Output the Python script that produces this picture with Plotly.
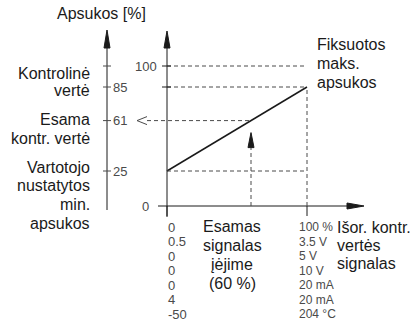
import plotly.graph_objects as go

# characteristic: external signal (% of range) -> speed (%)
signal_pct = [0, 100]
speed_pct = [25, 85]
ceiling_pct = 100
current_signal = 60
current_speed = 61

scale_ticks = [100, 85, 61, 25]
scale_labels = ["", "85", "61", "25"]
signal_min = ["0", "0.5", "0", "0", "0", "4", "-50"]
signal_max = ["100 %", "3.5 V", "5 V", "10 V", "20 mA", "20 mA", "204 °C"]

W, H = 420, 325
X0, Y0, K = 167, 206, 1.4  # pixel of the origin, pixels per %
FONT = "Liberation Sans, Arial, sans-serif"
INK = "#1a1a1a"
GREY = "#4a4a4a"


def xv(p):
    return (p - X0) / K


def yv(p):
    return (Y0 - p) / K


def seg(x0, y0, x1, y1, dash="solid", color=INK, width=1):
    return dict(type="line", xref="x", yref="y", x0=x0, y0=y0, x1=x1, y1=y1,
                line=dict(color=color, width=width, dash=dash))


def head(pts, fill=INK, closed=True):
    d = "M " + " L ".join(f"{x},{y}" for x, y in pts) + (" Z" if closed else "")
    if closed:
        return dict(type="path", xref="x", yref="y", path=d, fillcolor=fill,
                    line=dict(color=fill, width=1))
    return dict(type="path", xref="x", yref="y", path=d, line=dict(color=GREY, width=1))


def label(x, y, text, size=16, color=INK, xanchor="left"):
    return dict(x=x, y=y, xref="x", yref="y", text=text, showarrow=False,
                xanchor=xanchor, yanchor="middle",
                font=dict(family=FONT, size=size, color=color))


def block(x, y_top, lines, xanchor="left", step=18.7):
    # one annotation per line so the leading matches the drawing
    return [label(x, yv(y_top + i * step), t, xanchor=xanchor) for i, t in enumerate(lines)]


hw = 3 / K
dash = "4px,3px"
scale_x = xv(107)
x_lo, x_hi = signal_pct

shapes = [
    # scale axis on the left
    seg(scale_x, yv(210), scale_x, yv(46)),
    head([(scale_x - hw, yv(48)), (scale_x, yv(30)), (scale_x + hw, yv(48))]),
    # main axes
    seg(0, yv(217), 0, yv(46)),
    head([(-hw, yv(48)), (0, yv(31)), (hw, yv(48))]),
    seg(xv(158), 0, xv(349), 0),
    head([(xv(347), -hw), (xv(364), 0), (xv(347), hw)]),
    # guides
    seg(x_lo, ceiling_pct, x_hi, ceiling_pct, dash, GREY),
    seg(x_lo, speed_pct[1], x_hi, speed_pct[1], dash, GREY),
    seg(x_lo, speed_pct[0], x_hi, speed_pct[0], dash, GREY),
    seg(x_hi, 0, x_hi, speed_pct[1], dash, GREY),
    seg(xv(147), current_speed, current_signal, current_speed, dash, GREY),
    seg(current_signal, 0, current_signal, current_speed - 27 / K, dash, GREY),
    head([(current_signal - hw, current_speed - 27 / K), (current_signal, current_speed - 12 / K),
          (current_signal + hw, current_speed - 27 / K)]),
    head([(xv(147), current_speed + 4 / K), (xv(137), current_speed), (xv(147), current_speed - 4 / K)],
         closed=False),
    # ticks
    seg(xv(162), ceiling_pct, xv(171), ceiling_pct),
    seg(xv(162), speed_pct[1], xv(171), speed_pct[1]),
    seg(x_lo, 0, x_lo, yv(216)),
    seg(x_hi, 0, x_hi, yv(216)),
]
for v in scale_ticks:
    shapes.append(seg(xv(103), v, xv(111), v, color=GREY))

annotations = [label(xv(101), yv(13), "Apsukos [%]", xanchor="center")]
annotations += block(xv(92), 73, ["Kontrolinė", "vertė"], "right", 17)
annotations += block(xv(92), 119, ["Esama", "kontr. vertė"], "right", 19)
annotations += block(xv(92), 167, ["Vartotojo", "nustatytos", "min.", "apsukos"], "right")
annotations += block(xv(315), 44, ["Fiksuotos", "maks.", "apsukos"], step=19)
annotations += block(xv(232), 226, ["Esamas", "signalas", "įėjime", f"({current_signal} %)"],
                     "center", 19)
annotations += block(xv(335), 227, ["Išor. kontr.", "vertės", "signalas"], step=18)
annotations += [
    label(xv(159), ceiling_pct, str(ceiling_pct), size=13, color=GREY, xanchor="right"),
    label(xv(151), 0, "0", size=13, color=GREY, xanchor="right"),
]
for v, t in zip(scale_ticks, scale_labels):
    if t:
        annotations.append(label(xv(111), v, t, size=13, color=GREY))
for i, (lo, hi) in enumerate(zip(signal_min, signal_max)):
    y = yv(227 + i * 14.5)
    annotations.append(label(x_lo - 1 / K, y, lo, size=13, color=GREY))
    annotations.append(label(x_hi - 10 / K, y, hi, size=12, color=GREY))

fig = go.Figure(go.Scatter(x=signal_pct, y=speed_pct, mode="lines",
                           line=dict(color=INK, width=1.5), hoverinfo="skip"))
fig.update_layout(
    width=W, height=H, margin=dict(l=0, r=0, t=0, b=0),
    paper_bgcolor="white", plot_bgcolor="white", showlegend=False,
    xaxis=dict(range=[xv(0), xv(W)], visible=False, fixedrange=True),
    yaxis=dict(range=[yv(H), yv(0)], visible=False, fixedrange=True),
    shapes=shapes, annotations=annotations,
)
fig.write_html("out.html", config={"displayModeBar": False},
               post_script="document.body.style.margin='0';")
